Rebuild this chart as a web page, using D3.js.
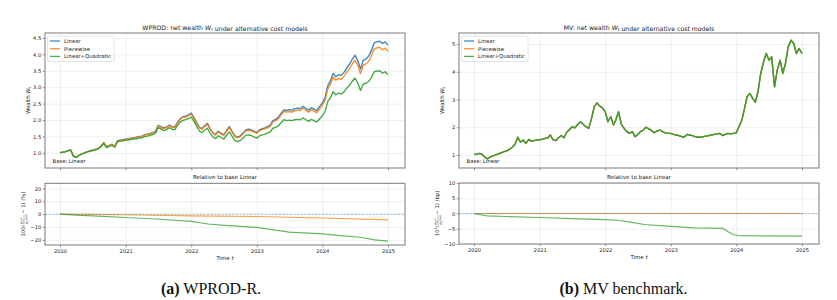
<!DOCTYPE html>
<html>
<head>
<meta charset="utf-8">
<script src="https://cdn.jsdelivr.net/npm/d3@7"></script>
<style>
  html, body { margin: 0; padding: 0; background: #fff; }
  svg { display: block; }
  text { font-family: "DejaVu Sans", sans-serif; fill: #222; }
  .caption { font-family: "Liberation Serif", "Times New Roman", serif; fill: #111; }
</style>
</head>
<body>
<svg id="chart" width="837" height="300"></svg>
<script>
const yearTicks = [2020, 2021, 2022, 2023, 2024, 2025];

const wprodLinear = [
  1.01, 1.02, 1.04, 1.07, 1.09, 0.90, 0.87, 0.93, 0.97, 1.00, 1.04, 1.06,
  1.08, 1.11, 1.14, 1.20, 1.31, 1.18, 1.22, 1.26, 1.20, 1.37, 1.39, 1.40,
  1.42, 1.43, 1.45, 1.46, 1.48, 1.50, 1.51, 1.55, 1.57, 1.59, 1.62, 1.66,
  1.84, 1.80, 1.76, 1.79, 1.85, 1.80, 1.79, 1.92, 2.04, 2.10, 2.12, 2.16,
  2.21, 2.08, 1.92, 1.78, 1.74, 1.82, 1.90, 1.74, 1.62, 1.56, 1.66, 1.60,
  1.55, 1.68, 1.80, 1.66, 1.52, 1.48, 1.52, 1.60, 1.70, 1.72, 1.70, 1.66,
  1.62, 1.70, 1.74, 1.76, 1.80, 1.84, 1.98, 2.02, 2.08, 2.20, 2.31, 2.29,
  2.32, 2.30, 2.34, 2.36, 2.35, 2.42, 2.36, 2.30, 2.37, 2.33, 2.29, 2.40,
  2.52, 2.68, 3.05, 3.20, 3.42, 3.32, 3.38, 3.36, 3.45, 3.58, 3.70, 3.85,
  3.97, 3.82, 3.55, 3.82, 3.86, 3.95, 4.12, 4.35, 4.38, 4.40, 4.33, 4.38,
  4.28
];
const wprodPiecewise = [
  1.01, 1.02, 1.04, 1.07, 1.09, 0.90, 0.87, 0.93, 0.97, 1.00, 1.04, 1.06,
  1.08, 1.11, 1.14, 1.20, 1.31, 1.18, 1.22, 1.26, 1.20, 1.36, 1.38, 1.39,
  1.41, 1.42, 1.44, 1.45, 1.47, 1.49, 1.50, 1.54, 1.56, 1.58, 1.61, 1.65,
  1.82, 1.78, 1.74, 1.77, 1.83, 1.78, 1.77, 1.90, 2.02, 2.08, 2.09, 2.13,
  2.18, 2.05, 1.89, 1.76, 1.72, 1.80, 1.87, 1.72, 1.60, 1.54, 1.64, 1.58,
  1.53, 1.65, 1.77, 1.63, 1.50, 1.46, 1.49, 1.57, 1.67, 1.69, 1.67, 1.63,
  1.59, 1.67, 1.71, 1.73, 1.76, 1.80, 1.94, 1.98, 2.04, 2.15, 2.26, 2.24,
  2.26, 2.24, 2.28, 2.30, 2.29, 2.36, 2.30, 2.24, 2.31, 2.27, 2.22, 2.33,
  2.44, 2.60, 2.95, 3.10, 3.31, 3.21, 3.27, 3.24, 3.33, 3.45, 3.57, 3.71,
  3.82, 3.67, 3.41, 3.67, 3.71, 3.79, 3.95, 4.17, 4.20, 4.21, 4.14, 4.19,
  4.09
];
const wprodQuad = [
  1.01, 1.02, 1.04, 1.07, 1.08, 0.89, 0.86, 0.92, 0.96, 0.99, 1.03, 1.05,
  1.07, 1.09, 1.12, 1.18, 1.29, 1.16, 1.20, 1.23, 1.17, 1.34, 1.36, 1.37,
  1.38, 1.39, 1.41, 1.42, 1.43, 1.45, 1.46, 1.50, 1.51, 1.53, 1.56, 1.60,
  1.77, 1.73, 1.68, 1.71, 1.77, 1.72, 1.70, 1.83, 1.94, 1.99, 2.01, 2.04,
  2.09, 1.96, 1.80, 1.66, 1.62, 1.69, 1.75, 1.60, 1.49, 1.43, 1.52, 1.47,
  1.42, 1.53, 1.64, 1.51, 1.38, 1.34, 1.38, 1.45, 1.54, 1.55, 1.53, 1.49,
  1.45, 1.52, 1.55, 1.57, 1.60, 1.63, 1.75, 1.78, 1.82, 1.92, 2.01, 1.98,
  2.00, 1.98, 2.01, 2.02, 2.01, 2.07, 2.01, 1.96, 2.02, 1.98, 1.94, 2.03,
  2.13, 2.26, 2.57, 2.69, 2.86, 2.77, 2.82, 2.79, 2.86, 2.97, 3.06, 3.18,
  3.28, 3.14, 2.90, 3.10, 3.12, 3.18, 3.30, 3.47, 3.49, 3.50, 3.43, 3.47,
  3.38
];
// MV: the three cost models differ by a few bp only, so they share one path
const mvLinear = [
  1.02, 1.03, 1.06, 1.02, 0.92, 0.86, 0.93, 0.97, 1.00, 1.04, 1.08, 1.12,
  1.15, 1.20, 1.28, 1.38, 1.64, 1.46, 1.54, 1.42, 1.56, 1.50, 1.52, 1.54,
  1.55, 1.57, 1.60, 1.62, 1.72, 1.55, 1.52, 1.62, 1.70, 1.62, 1.82, 1.92,
  2.02, 1.98, 2.10, 2.20, 2.10, 2.02, 1.96, 2.30, 2.74, 2.88, 2.76, 2.70,
  2.56, 2.20, 2.38, 2.08, 2.26, 2.56, 2.10, 1.96, 1.84, 1.78, 1.84, 1.66,
  1.74, 1.84, 1.90, 2.00, 1.94, 1.88, 1.80, 1.86, 1.90, 1.84, 1.80, 1.78,
  1.78, 1.74, 1.72, 1.70, 1.66, 1.64, 1.74, 1.72, 1.70, 1.66, 1.64, 1.64,
  1.66, 1.68, 1.70, 1.72, 1.74, 1.76, 1.78, 1.70, 1.74, 1.78, 1.76, 1.78,
  1.80, 2.02, 2.26, 2.68, 3.10, 3.22, 3.04, 2.90, 3.28, 3.94, 4.36, 4.66,
  4.42, 4.54, 3.46, 4.06, 4.42, 3.94, 4.30, 4.90, 5.14, 5.02, 4.66, 4.84,
  4.66
];

// Relative to base Linear: WPROD in %, MV in bp
const wprodRelPiecewise = [
  ['2020-01-01', 0], ['2021-01-01', -0.5], ['2022-01-01', -1.3],
  ['2023-01-01', -1.8], ['2024-01-01', -3.0], ['2025-01-01', -4.5]
];
const wprodRelQuad = [
  ['2020-01-01', 0], ['2020-04-01', -0.8], ['2020-07-01', -1.3], ['2021-01-01', -2.6],
  ['2021-06-17', -3.8], ['2022-01-01', -5.6], ['2022-04-05', -7.7], ['2022-06-17', -8.5],
  ['2023-01-01', -10.3], ['2023-02-25', -11.5], ['2023-07-01', -14.0], ['2024-01-01', -15.4],
  ['2024-04-12', -16.7], ['2024-07-31', -18.0], ['2024-10-19', -20.0], ['2025-01-01', -21.0]
];
const mvRelPiecewise = [['2020-01-01', 0], ['2025-01-01', 0]];
const mvRelQuad = [
  ['2020-01-01', 0], ['2020-02-06', -0.4], ['2020-03-14', -0.8], ['2020-07-01', -1.0],
  ['2021-01-01', -1.3], ['2021-07-01', -1.7], ['2022-01-01', -2.0], ['2022-03-14', -2.2],
  ['2022-05-27', -2.9], ['2022-08-08', -3.6], ['2023-01-01', -4.2], ['2023-05-08', -4.7],
  ['2023-10-19', -4.9], ['2023-11-17', -6.0], ['2023-12-13', -6.9], ['2024-01-19', -7.3],
  ['2025-01-01', -7.4]
];

const C = { Linear: '#1f77b4', Piecewise: '#ff7f0e', 'Linear+Quadratic': '#2ca02c' };
const models = ['Linear', 'Piecewise', 'Linear+Quadratic'];

const parse = d3.utcParse('%Y-%m-%d');
const dates = d3.utcMonth.range(parse('2020-01-01'), parse('2025-01-01'))
  .flatMap(m => [m, d3.utcDay.offset(m, 15)]);
dates.push(parse('2025-01-01'));
const yearDates = yearTicks.map(y => new Date(Date.UTC(y, 0, 1)));

const svg = d3.select('#chart');

function italicSub(sel, main, sub, size) {
  sel.append('tspan').attr('font-style', 'italic').text(main);
  sel.append('tspan').attr('font-size', size * 0.7).attr('dy', size * 0.25).text(sub);
  sel.append('tspan').attr('dy', -size * 0.25).text('');
}

function drawPanel(cfg) {
  const g = svg.append('g');
  const x = d3.scaleUtc().domain([yearDates[0], yearDates[5]]).range(cfg.xr);

  function frame(box, ylim, yticks, yfmt, showX) {
    const y = d3.scaleLinear().domain(ylim).range([box[3], box[1]]);
    const h = box[3] - box[1];
    // grid
    g.append('g').attr('transform', `translate(0,${box[3]})`)
      .call(d3.axisBottom(x).tickValues(yearDates).tickSize(-h).tickFormat(''))
      .call(a => a.select('.domain').remove())
      .selectAll('line').attr('stroke', '#e4e4e4').attr('stroke-width', 0.6);
    g.append('g').attr('transform', `translate(${box[0]},0)`)
      .call(d3.axisLeft(y).tickValues(yticks).tickSize(-(box[2] - box[0])).tickFormat(''))
      .call(a => a.select('.domain').remove())
      .selectAll('line').attr('stroke', '#e4e4e4').attr('stroke-width', 0.6);
    // axes
    const ax = g.append('g').attr('transform', `translate(0,${box[3]})`)
      .call(d3.axisBottom(x).tickValues(yearDates).tickSize(2.2).tickPadding(2)
        .tickFormat(showX ? d3.utcFormat('%Y') : ''));
    const ay = g.append('g').attr('transform', `translate(${box[0]},0)`)
      .call(d3.axisLeft(y).tickValues(yticks).tickSize(2.2).tickPadding(1.5).tickFormat(yfmt));
    [ax, ay].forEach(a => {
      a.select('.domain').remove();
      a.selectAll('line').attr('stroke', '#444').attr('stroke-width', 0.6);
      a.selectAll('text').attr('font-size', 5.2).attr('fill', '#222')
        .attr('font-family', '"DejaVu Sans", sans-serif');
    });
    return y;
  }

  function spines(box) {
    g.append('rect').attr('x', box[0]).attr('y', box[1])
      .attr('width', box[2] - box[0]).attr('height', box[3] - box[1])
      .attr('fill', 'none').attr('stroke', '#7a7a7a').attr('stroke-width', 1);
  }

  // ---- top: wealth ----
  const tb = cfg.topBox;
  const yT = frame(tb, cfg.topLim, cfg.topTicks, cfg.topFmt, false);
  const wline = d3.line().x((d, i) => x(dates[i])).y(d => yT(d));
  models.forEach(m => {
    g.append('path').datum(cfg.wealth[m]).attr('d', wline)
      .attr('fill', 'none').attr('stroke', C[m]).attr('stroke-width', 1.35)
      .attr('stroke-opacity', 0.9).attr('stroke-linejoin', 'round');
  });
  spines(tb);

  const title = g.append('text').attr('x', (tb[0] + tb[2]) / 2).attr('y', tb[1] - 3.5)
    .attr('text-anchor', 'middle').attr('font-size', 6.2);
  title.append('tspan').text(cfg.name + ': net wealth ');
  italicSub(title, 'W', 't', 6.2);
  title.append('tspan').text(' under alternative cost models');

  const yl = g.append('text').attr('font-size', 5.4).attr('text-anchor', 'middle')
    .attr('transform', `translate(${tb[0] - 15.5},${(tb[1] + tb[3]) / 2}) rotate(-90)`);
  yl.append('tspan').text('Wealth ');
  italicSub(yl, 'W', 't', 5.4);

  g.append('text').attr('x', tb[0] + 7.5).attr('y', tb[3] - 4.8)
    .attr('font-size', 5.3).text('Base: Linear');

  // legend
  const lg = g.append('g').attr('transform', `translate(${tb[0] + 2.6},${tb[1] + 3})`);
  const lbox = lg.append('rect').attr('fill', '#fff').attr('fill-opacity', 0.85)
    .attr('stroke', '#d0d0d0').attr('stroke-width', 0.6).attr('rx', 1.5);
  let maxW = 0;
  models.forEach((m, i) => {
    const yy = 5 + i * 7.7;
    lg.append('line').attr('x1', 2.5).attr('x2', 12.5).attr('y1', yy).attr('y2', yy)
      .attr('stroke', C[m]).attr('stroke-width', 1.3).attr('stroke-opacity', 0.85);
    const t = lg.append('text').attr('x', 16.5).attr('y', yy + 1.9).attr('font-size', 5.3).text(m);
    maxW = Math.max(maxW, t.node().getComputedTextLength());
  });
  lbox.attr('width', 16.5 + maxW + 3).attr('height', 25.5);

  // ---- bottom: relative ----
  const bb = cfg.botBox;
  const yB = frame(bb, cfg.botLim, cfg.botTicks, d3.format('d'), true);
  const rline = d3.line().x(d => x(parse(d[0]))).y(d => yB(d[1]));
  [['Piecewise', cfg.relPw], ['Linear+Quadratic', cfg.relQ]].forEach(([m, data]) => {
    g.append('path').datum(data).attr('d', rline)
      .attr('fill', 'none').attr('stroke', C[m]).attr('stroke-width', 1.15)
      .attr('stroke-opacity', 0.75);
  });
  g.append('line').attr('x1', bb[0]).attr('x2', bb[2]).attr('y1', yB(0)).attr('y2', yB(0))
    .attr('stroke', C.Linear).attr('stroke-opacity', 0.5).attr('stroke-width', 0.9)
    .attr('stroke-dasharray', '2.2,1.4');
  spines(bb);

  g.append('text').attr('x', (bb[0] + bb[2]) / 2).attr('y', bb[1] - 4)
    .attr('text-anchor', 'middle').attr('font-size', 5.6).text('Relative to base Linear');

  const xl = g.append('text').attr('x', (bb[0] + bb[2]) / 2).attr('y', bb[3] + 14.5)
    .attr('text-anchor', 'middle').attr('font-size', 5.4);
  xl.append('tspan').text('Time ');
  xl.append('tspan').attr('font-style', 'italic').text('t');

  // y label with a small stacked fraction
  const lab = g.append('g').attr('font-size', 5.2);
  const pre = lab.append('text');
  pre.append('tspan').text(cfg.relPrefix[0]);
  if (cfg.relPrefix[1]) pre.append('tspan').attr('font-size', 3.4).attr('dy', -2).text(cfg.relPrefix[1]);
  pre.append('tspan').attr('dy', cfg.relPrefix[1] ? 2 : 0).text('(');
  const w0 = pre.node().getComputedTextLength() + 0.4;
  const num = lab.append('text').attr('x', w0).attr('y', -2).attr('font-size', 3.3);
  num.append('tspan').attr('font-style', 'italic').text('W');
  num.append('tspan').attr('font-size', 2.4).attr('dy', 0.8).text('t');
  num.append('tspan').attr('font-size', 2.4).attr('dy', -2.2).attr('font-style', 'italic').text('m');
  const den = lab.append('text').attr('x', w0).attr('y', 3.2).attr('font-size', 3.3);
  den.append('tspan').attr('font-style', 'italic').text('W');
  den.append('tspan').attr('font-size', 2.4).attr('dy', 0.8).text('t');
  den.append('tspan').attr('font-size', 2.4).attr('dy', -2.2).text('base');
  const fw = Math.max(num.node().getComputedTextLength(), den.node().getComputedTextLength());
  lab.append('line').attr('x1', w0).attr('x2', w0 + fw).attr('y1', -1).attr('y2', -1)
    .attr('stroke', '#222').attr('stroke-width', 0.3);
  const post = lab.append('text').attr('x', w0 + fw + 0.6).text('\u2212 1) ' + cfg.relUnit);
  const total = w0 + fw + 0.6 + post.node().getComputedTextLength();
  lab.attr('transform',
    `translate(${bb[0] - cfg.relLabelOff},${(bb[1] + bb[3]) / 2 + total / 2}) rotate(-90)`);

  // caption
  const cap = svg.append('text').attr('class', 'caption')
    .attr('x', cfg.capX).attr('y', 294).attr('text-anchor', 'middle')
    .attr('font-size', 16);
  cap.append('tspan').attr('font-weight', 'bold').text(cfg.capTag);
  cap.append('tspan').text(' ' + cfg.capText);
}

drawPanel({
  name: 'WPROD',
  xr: [60, 388],
  topBox: [45, 33, 405, 168],
  topLim: [0.54, 4.65],
  topTicks: [1.0, 1.5, 2.0, 2.5, 3.0, 3.5, 4.0, 4.5],
  topFmt: d3.format('.1f'),
  wealth: { Linear: wprodLinear, Piecewise: wprodPiecewise, 'Linear+Quadratic': wprodQuad },
  botBox: [45, 183.3, 405, 245],
  botLim: [-24, 24],
  botTicks: [-20, -10, 0, 10, 20],
  relPw: wprodRelPiecewise,
  relQ: wprodRelQuad,
  relPrefix: ['100', ''],
  relUnit: '(%)',
  relLabelOff: 20,
  capX: 211,
  capTag: '(a)',
  capText: 'WPROD-R.'
});

drawPanel({
  name: 'MV',
  xr: [474, 802],
  topBox: [459, 33, 819, 168],
  topLim: [0.53, 5.4],
  topTicks: [1, 2, 3, 4, 5],
  topFmt: d3.format('d'),
  wealth: { Linear: mvLinear, Piecewise: mvLinear, 'Linear+Quadratic': mvLinear },
  botBox: [459, 183, 819, 244],
  botLim: [-10, 10],
  botTicks: [-10, -5, 0, 5, 10],
  relPw: mvRelPiecewise,
  relQ: mvRelQuad,
  relPrefix: ['10', '4'],
  relUnit: '(bp)',
  relLabelOff: 20,
  capX: 623.5,
  capTag: '(b)',
  capText: 'MV benchmark.'
});
</script>
</body>
</html>
